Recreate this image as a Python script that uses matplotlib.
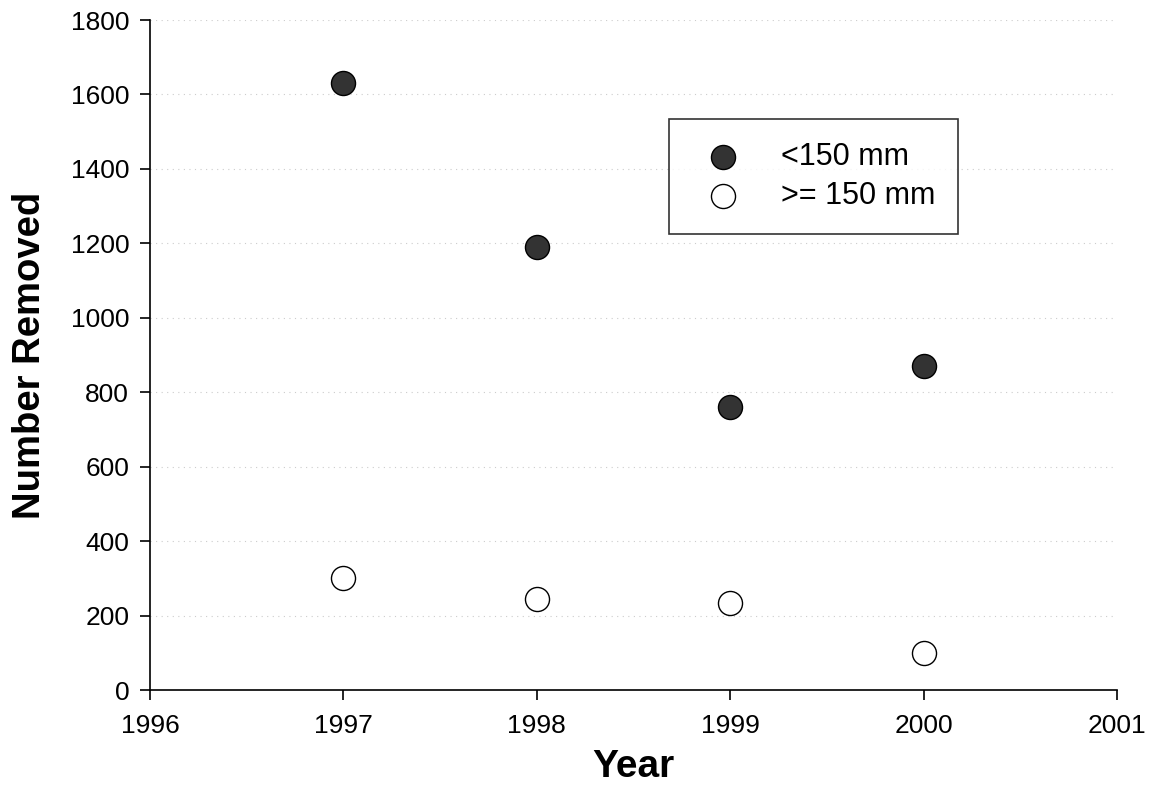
import matplotlib
matplotlib.use("Agg")
import matplotlib.pyplot as plt

years = [1997, 1998, 1999, 2000]
small = [1630, 1190, 760, 870]
large = [300, 245, 235, 100]
xticks = [1996, 1997, 1998, 1999, 2000, 2001]
yticks = [0, 200, 400, 600, 800, 1000, 1200, 1400, 1600, 1800]

plt.rcParams['font.family'] = ['Liberation Sans', 'DejaVu Sans']

fig = plt.figure(figsize=(11.49, 8.06), dpi=100)
ax = fig.add_axes([150/1149, 116/806, 967/1149, 670/806])

for y in yticks[1:]:
    ax.axhline(y, color='#cccccc', lw=0.8, ls=(0, (1, 4)), zorder=0)

ax.scatter(years, small, s=300, facecolor='#333333', edgecolor='black', lw=1.0,
           label='<150 mm', zorder=3)
ax.scatter(years, large, s=300, facecolor='white', edgecolor='black', lw=1.0,
           label='>= 150 mm', zorder=3)

ax.set_xlim(1996, 2001)
ax.set_ylim(0, 1800)
ax.set_xticks(xticks)
ax.set_yticks(yticks)
ax.tick_params(axis='both', labelsize=19, direction='out', length=7, width=1.2, color='black')
ax.tick_params(axis='x', pad=10)
ax.tick_params(axis='y', pad=8)
for s in ['top', 'right']:
    ax.spines[s].set_visible(False)
for s in ['left', 'bottom']:
    ax.spines[s].set_linewidth(1.2)

ax.set_xlabel('Year', fontsize=28, fontweight='bold', labelpad=8)
ax.set_ylabel('Number Removed', fontsize=27.5, fontweight='bold', labelpad=16)

leg = ax.legend(loc='upper left', bbox_to_anchor=(0.537, 0.852), fontsize=22,
                frameon=True, fancybox=False, edgecolor='black', borderpad=0.75,
                handletextpad=0.9, labelspacing=0.3, borderaxespad=0)
leg.get_frame().set_linewidth(1.2)

fig.savefig('out.png', dpi=100)
